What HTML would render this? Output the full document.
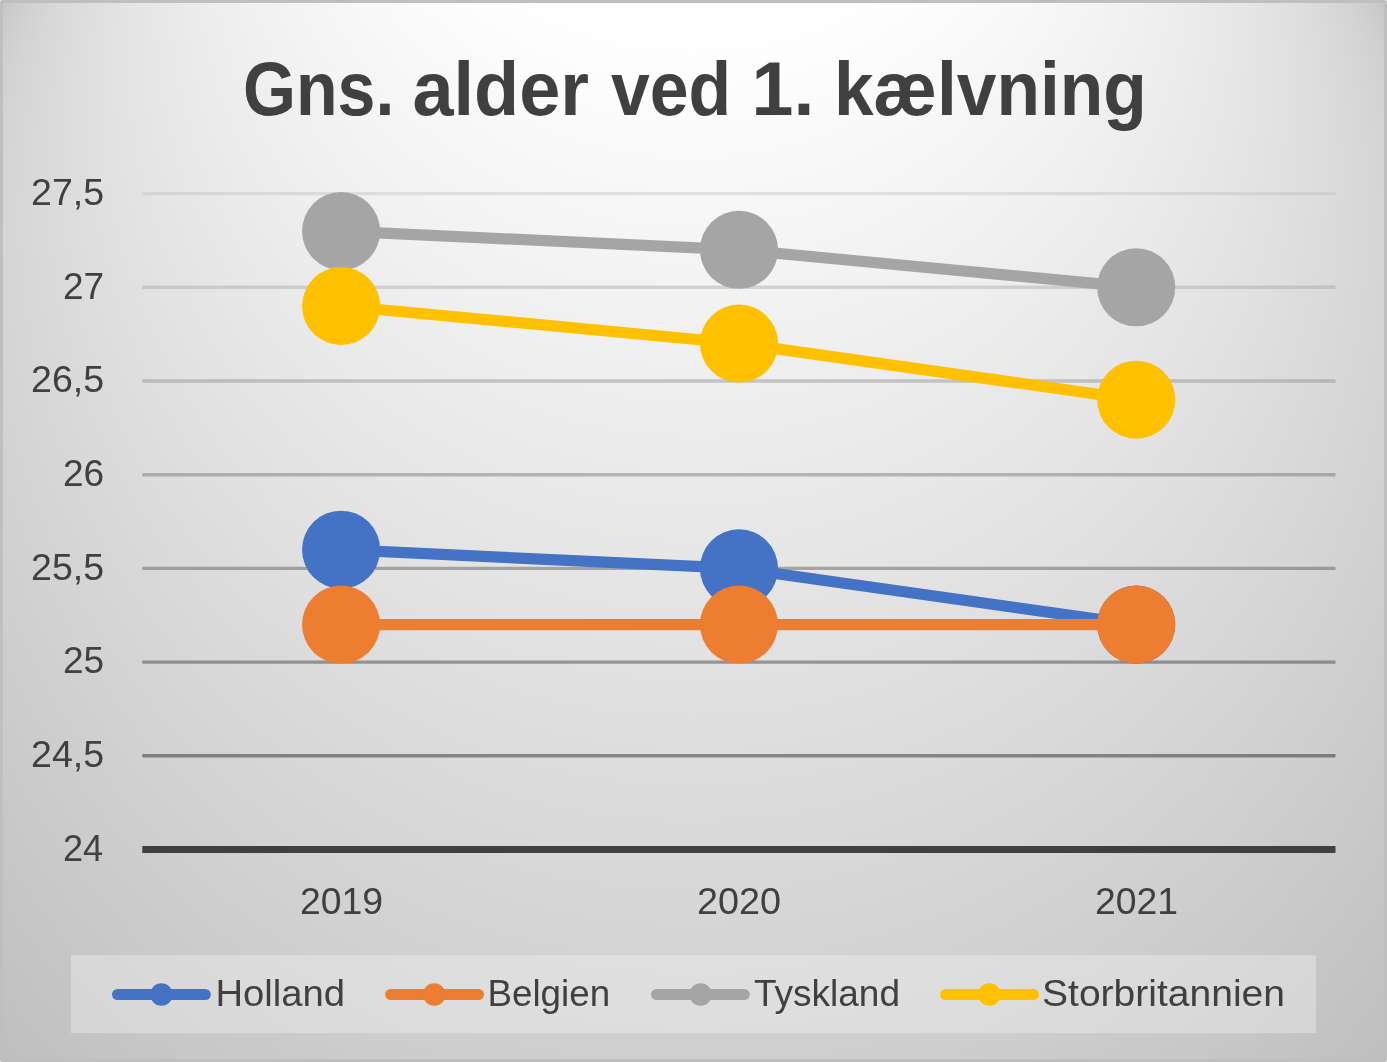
<!DOCTYPE html>
<html lang="da"><head><meta charset="utf-8"><title>Gns. alder ved 1. kælvning</title>
<style>html,body{margin:0;padding:0;background:#fff;overflow:hidden}svg{display:block}text{font-family:"Liberation Sans",sans-serif;fill:#404040}.t{font-weight:bold}</style></head><body>
<svg style="will-change:transform" width="1387" height="1062" viewBox="0 0 1387 1062">
<defs>
<radialGradient id="bg" gradientUnits="userSpaceOnUse" fx="693.5" fy="531" fr="873.443" cx="693.5" cy="-848.22" r="0.873"><stop offset="0" stop-color="#bfbfbf"/><stop offset="0.6106" stop-color="#ffffff"/><stop offset="1" stop-color="#ffffff"/></radialGradient>
<radialGradient id="fb" gradientUnits="userSpaceOnUse" cx="0" cy="0" r="1" gradientTransform="translate(693.5 -849.6) scale(847 2208)"><stop offset="0.39" stop-color="#ffffff"/><stop offset="1" stop-color="#bfbfbf"/></radialGradient>
</defs>
<rect x="0" y="0" width="1387" height="1062" fill="#fff"/>
<rect x="1.45" y="1.45" width="1384.1" height="1059.1" fill="url(#fb)"/>
<rect x="1.45" y="1.45" width="1384.1" height="1059.1" rx="0.5" fill="url(#bg)" stroke="#bfbfbf" stroke-width="2.9" stroke-linejoin="round"/>
<path d="M142.3 193.6H1335.5" fill="none" stroke="rgb(181,181,181)" stroke-opacity="0.333" stroke-width="3.4"/>
<path d="M142.3 287.3H1335.5" fill="none" stroke="rgb(151,151,151)" stroke-opacity="0.355" stroke-width="3.4"/>
<path d="M142.3 381.0H1335.5" fill="none" stroke="rgb(124,124,124)" stroke-opacity="0.378" stroke-width="3.4"/>
<path d="M142.3 474.7H1335.5" fill="none" stroke="rgb(100,100,100)" stroke-opacity="0.400" stroke-width="3.4"/>
<path d="M142.3 568.4H1335.5" fill="none" stroke="rgb(75,75,75)" stroke-opacity="0.422" stroke-width="3.4"/>
<path d="M142.3 662.1H1335.5" fill="none" stroke="rgb(53,53,53)" stroke-opacity="0.445" stroke-width="3.4"/>
<path d="M142.3 755.8H1335.5" fill="none" stroke="rgb(32,32,32)" stroke-opacity="0.467" stroke-width="3.4"/>
<path d="M142.3 849.5H1335.5" fill="none" stroke="#404040" stroke-width="6.8"/>
<polyline points="341.1,549.7 739.0,568.4 1136.2,624.6" fill="none" stroke="#4472C4" stroke-width="11.2" stroke-linecap="round" stroke-linejoin="round"/>
<circle cx="341.1" cy="549.7" r="39.05" fill="#4472C4"/>
<circle cx="739.0" cy="568.4" r="39.05" fill="#4472C4"/>
<circle cx="1136.2" cy="624.6" r="39.05" fill="#4472C4"/>
<polyline points="341.1,624.6 739.0,624.6 1136.2,624.6" fill="none" stroke="#ED7D31" stroke-width="11.2" stroke-linecap="round" stroke-linejoin="round"/>
<circle cx="341.1" cy="624.6" r="39.05" fill="#ED7D31"/>
<circle cx="739.0" cy="624.6" r="39.05" fill="#ED7D31"/>
<circle cx="1136.2" cy="624.6" r="39.05" fill="#ED7D31"/>
<polyline points="341.1,231.1 739.0,249.8 1136.2,287.3" fill="none" stroke="#A5A5A5" stroke-width="11.2" stroke-linecap="round" stroke-linejoin="round"/>
<circle cx="341.1" cy="231.1" r="39.05" fill="#A5A5A5"/>
<circle cx="739.0" cy="249.8" r="39.05" fill="#A5A5A5"/>
<circle cx="1136.2" cy="287.3" r="39.05" fill="#A5A5A5"/>
<polyline points="341.1,306.0 739.0,343.5 1136.2,399.7" fill="none" stroke="#FFC000" stroke-width="11.2" stroke-linecap="round" stroke-linejoin="round"/>
<circle cx="341.1" cy="306.0" r="39.05" fill="#FFC000"/>
<circle cx="739.0" cy="343.5" r="39.05" fill="#FFC000"/>
<circle cx="1136.2" cy="399.7" r="39.05" fill="#FFC000"/>
<rect x="71" y="955.2" width="1245" height="78" fill="#f2f2f2" fill-opacity="0.39"/>
<path d="M117.6 994.5H205.2" fill="none" stroke="#4472C4" stroke-width="11.2" stroke-linecap="round"/>
<circle cx="161.4" cy="994.5" r="11.2" fill="#4472C4"/>
<path d="M390.8 994.5H478.4" fill="none" stroke="#ED7D31" stroke-width="11.2" stroke-linecap="round"/>
<circle cx="434.2" cy="994.5" r="11.2" fill="#ED7D31"/>
<path d="M656.6 994.5H744.2" fill="none" stroke="#A5A5A5" stroke-width="11.2" stroke-linecap="round"/>
<circle cx="700.6" cy="994.5" r="11.2" fill="#A5A5A5"/>
<path d="M945.8 994.5H1033.3" fill="none" stroke="#FFC000" stroke-width="11.2" stroke-linecap="round"/>
<circle cx="989.4" cy="994.5" r="11.2" fill="#FFC000"/>
<text class="t" x="243.00" y="114.60" font-size="75.40" textLength="151.31" lengthAdjust="spacingAndGlyphs">Gns.</text>
<text class="t" x="412.50" y="114.60" font-size="75.40" textLength="176.55" lengthAdjust="spacingAndGlyphs">alder</text>
<text class="t" x="611.00" y="114.60" font-size="75.40" textLength="120.14" lengthAdjust="spacingAndGlyphs">ved</text>
<text class="t" x="751.50" y="114.60" font-size="75.40" textLength="62.82" lengthAdjust="spacingAndGlyphs">1.</text>
<text class="t" x="834.00" y="114.60" font-size="75.40" textLength="312.73" lengthAdjust="spacingAndGlyphs">kælvning</text>
<text x="31.00" y="204.90" font-size="36.30" textLength="73.10" lengthAdjust="spacingAndGlyphs">27,5</text>
<text x="63.00" y="298.60" font-size="36.30" textLength="41.18" lengthAdjust="spacingAndGlyphs">27</text>
<text x="31.00" y="392.30" font-size="36.30" textLength="73.10" lengthAdjust="spacingAndGlyphs">26,5</text>
<text x="63.00" y="486.00" font-size="36.30" textLength="41.18" lengthAdjust="spacingAndGlyphs">26</text>
<text x="31.00" y="579.70" font-size="36.30" textLength="73.10" lengthAdjust="spacingAndGlyphs">25,5</text>
<text x="63.00" y="673.40" font-size="36.30" textLength="41.18" lengthAdjust="spacingAndGlyphs">25</text>
<text x="31.00" y="767.10" font-size="36.30" textLength="73.10" lengthAdjust="spacingAndGlyphs">24,5</text>
<text x="63.00" y="860.80" font-size="36.30" textLength="40.13" lengthAdjust="spacingAndGlyphs">24</text>
<text x="300.00" y="914.30" font-size="36.30" textLength="83.08" lengthAdjust="spacingAndGlyphs">2019</text>
<text x="697.00" y="914.30" font-size="36.30" textLength="84.06" lengthAdjust="spacingAndGlyphs">2020</text>
<text x="1095.00" y="914.30" font-size="36.30" textLength="83.12" lengthAdjust="spacingAndGlyphs">2021</text>
<text x="215.50" y="1005.70" font-size="36.30" textLength="129.62" lengthAdjust="spacingAndGlyphs">Holland</text>
<text x="487.50" y="1005.70" font-size="36.30" textLength="122.60" lengthAdjust="spacingAndGlyphs">Belgien</text>
<text x="754.00" y="1005.70" font-size="36.30" textLength="146.02" lengthAdjust="spacingAndGlyphs">Tyskland</text>
<text x="1042.00" y="1005.70" font-size="36.30" textLength="243.04" lengthAdjust="spacingAndGlyphs">Storbritannien</text>
</svg></body></html>
